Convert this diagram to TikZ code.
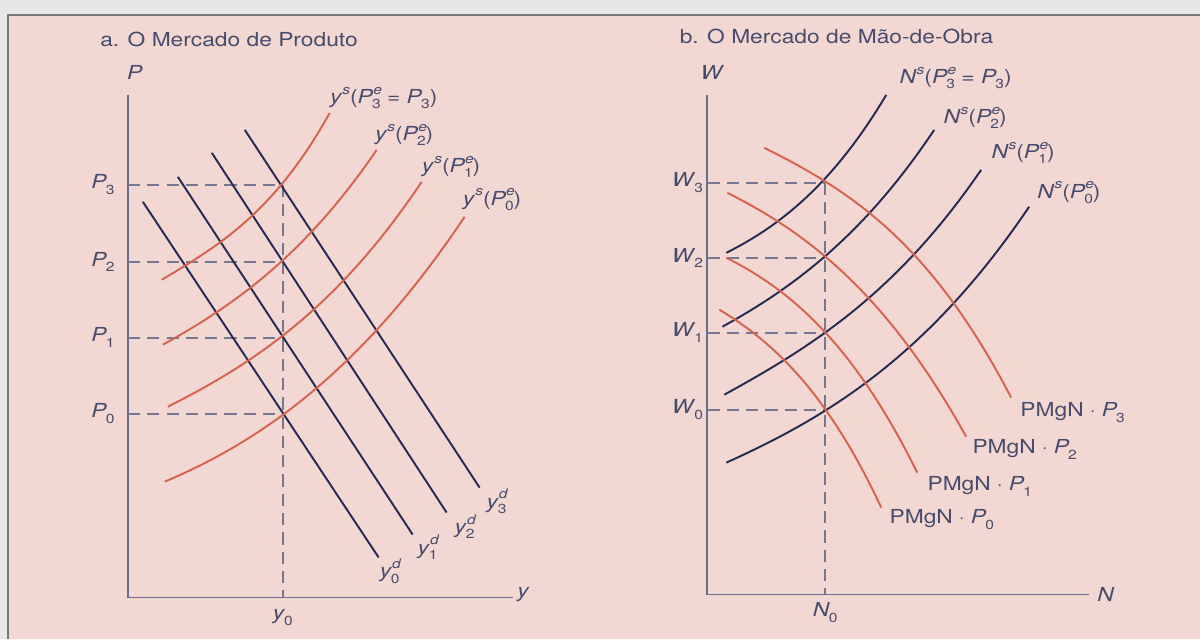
\documentclass[tikz,border=0pt]{standalone}
\usepackage{fontspec}
\setmainfont{TeX Gyre Heros}[FakeStretch=1.18]
\definecolor{outer}{RGB}{231,231,231}
\definecolor{bg}{RGB}{242,215,210}
\definecolor{bordc}{RGB}{120,120,125}
\definecolor{txt}{RGB}{72,76,108}
\definecolor{axc}{RGB}{105,110,140}
\definecolor{dashc}{RGB}{118,120,145}
\definecolor{navy}{RGB}{38,42,82}
\definecolor{redc}{RGB}{214,98,80}
\newcommand{\MySb}[1]{\kern-0.06em\raisebox{-0.55ex}{\fontsize{7.5}{8}\selectfont #1}}
\newcommand{\MySp}[1]{\raisebox{0.9ex}{\fontsize{7.5}{8}\selectfont\itshape #1}}
\newcommand{\MySS}[2]{\makebox[0pt][l]{\MySp{#1}}\MySb{#2}}
\begin{document}
\begin{tikzpicture}[x=0.02cm,y=-0.02cm,
  lbl/.style={text=txt, font=\fontsize{11}{12}\selectfont, inner sep=0pt},
  ax/.style={draw=axc, line width=1.1pt},
  guide/.style={draw=dashc, line width=1.05pt, dash pattern=on 7pt off 4pt},
  dem/.style={draw=navy, line width=1.1pt},
  redcurve/.style={draw=redc, line width=1.1pt},
  bluecurve/.style={draw=navy, line width=1.1pt}]
\fill[outer] (0,0) rectangle (1201,640);
\fill[bg] (8,15) rectangle (1201,640);
\draw[bordc, line width=1.2pt] (8,640) -- (8,15) -- (1201,15);
\useasboundingbox (0,0) rectangle (1201,640);

% ---------- Panel a ----------
\node[lbl, anchor=west] (ta) at (100,40) {a. O Mercado de Produto};
\coordinate (aO) at (128,598);
\coordinate (aTop) at (128,95);
\coordinate (aRight) at (513,598);
\draw[ax] (aTop) -- (aO) -- (aRight);
\node[lbl] (lP) at (135,73) {\textit{P}};
\node[lbl] (ly) at (524,595) {\textit{y}};
\node[lbl] (ly0) at (283,618) {\textit{y}\MySb{0}};
\foreach \i/\yy in {3/185,2/262,1/338,0/414}{
  \node[lbl] (lP\i) at (103,\yy) {\textit{P}\MySb{\i}};
  \draw[guide] (128,\yy) -- (283,\yy);
}
\draw[guide] (283,185) -- (283,598);

% demand lines
\draw[dem] (143,202) -- (379,558);
\draw[dem] (178,177) -- (413,535);
\draw[dem] (212,153) -- (447,513);
\draw[dem] (245,130) -- (480,488);
\node[lbl] (yd0) at (390,572) {\textit{y}\MySS{d}{0}};
\node[lbl] (yd1) at (428,548) {\textit{y}\MySS{d}{1}};
\node[lbl] (yd2) at (465,527) {\textit{y}\MySS{d}{2}};
\node[lbl] (yd3) at (497,502) {\textit{y}\MySS{d}{3}};

% supply curves
\draw[redcurve] (162,280) .. controls +(56,-33.6) and +(-56,100.8) .. (330,113);
\draw[redcurve] (163,345) .. controls +(71.3,-39.2) and +(-71.3,104.8) .. (377,150);
\draw[redcurve] (168,407) .. controls +(84.7,-42.4) and +(-84.7,127) .. (422,182);
\draw[redcurve] (165,482) .. controls +(100,-42) and +(-100,150) .. (465,217);
\node[lbl, anchor=west] (ys3) at (330,98) {\textit{y}\MySp{s}(\textit{P}\MySS{e}{3} = \textit{P}\MySb{3})};
\node[lbl, anchor=west] (ys2) at (375,135) {\textit{y}\MySp{s}(\textit{P}\MySS{e}{2})};
\node[lbl, anchor=west] (ys1) at (422,167) {\textit{y}\MySp{s}(\textit{P}\MySS{e}{1})};
\node[lbl, anchor=west] (ys0) at (463,200) {\textit{y}\MySp{s}(\textit{P}\MySS{e}{0})};

% ---------- Panel b ----------
\node[lbl, anchor=west] (tb) at (680,37) {b. O Mercado de Mão-de-Obra};
\coordinate (bO) at (708,595);
\coordinate (bTop) at (708,95);
\coordinate (bRight) at (1090,595);
\draw[ax] (bTop) -- (bO) -- (bRight);
\node[lbl] (lW) at (713,73) {\textit{W}};
\node[lbl] (lN) at (1107,595) {\textit{N}};
\node[lbl] (lN0) at (826,613) {\textit{N}\MySb{0}};
\foreach \i/\yy in {3/183,2/258,1/333,0/410}{
  \node[lbl] (lW\i) at (688,\yy) {\textit{W}\MySb{\i}};
  \draw[guide] (708,\yy) -- (826,\yy);
}
\draw[guide] (826,183) -- (826,595);

% labour supply
\draw[bluecurve] (727,253) .. controls +(53.3,-26.7) and +(-53.3,89.5) .. (887,95);
\draw[bluecurve] (723,327) .. controls +(70.7,-38.9) and +(-70.7,106) .. (935,130);
\draw[bluecurve] (725,395) .. controls +(85.7,-47.1) and +(-85.7,125.1) .. (982,170);
\draw[bluecurve] (727,463) .. controls +(101,-45.5) and +(-101,149.5) .. (1030,207);
\node[lbl, anchor=west] (ns3) at (900,78) {\textit{N}\MySp{s}(\textit{P}\MySS{e}{3} = \textit{P}\MySb{3})};
\node[lbl, anchor=west] (ns2) at (944,118) {\textit{N}\MySp{s}(\textit{P}\MySS{e}{2})};
\node[lbl, anchor=west] (ns1) at (992,153) {\textit{N}\MySp{s}(\textit{P}\MySS{e}{1})};
\node[lbl, anchor=west] (ns0) at (1038,193) {\textit{N}\MySp{s}(\textit{P}\MySS{e}{0})};

% labour demand
\draw[redcurve] (765,148) .. controls +(82.3,41.2) and +(-82.3,-158.8) .. (1012,398);
\draw[redcurve] (728,193) .. controls +(79.7,39.9) and +(-79.7,-143.5) .. (967,437);
\draw[redcurve] (727,258) .. controls +(63.7,31.9) and +(-63.7,-129.3) .. (918,473);
\draw[redcurve] (720,310) .. controls +(54,32.4) and +(-54,-115.6) .. (882,508);
\node[lbl, anchor=west] (pm3) at (1021,413) {PMgN $\cdot$ \textit{P}\MySb{3}};
\node[lbl, anchor=west] (pm2) at (973,450) {PMgN $\cdot$ \textit{P}\MySb{2}};
\node[lbl, anchor=west] (pm1) at (928,487) {PMgN $\cdot$ \textit{P}\MySb{1}};
\node[lbl, anchor=west] (pm0) at (890,520) {PMgN $\cdot$ \textit{P}\MySb{0}};
\end{tikzpicture}
\end{document}
